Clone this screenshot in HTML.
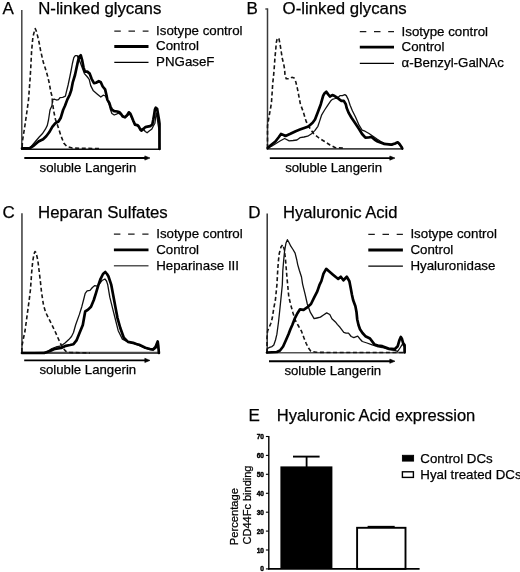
<!DOCTYPE html>
<html><head><meta charset="utf-8"><style>
html,body{margin:0;padding:0;background:#fff;overflow:hidden;}
svg{display:block;}
text{font-family:"Liberation Sans",sans-serif;fill:#000;stroke:#000;stroke-width:0.25px;}
svg{will-change:transform;}
.pl{font-size:17px;}
.tt{font-size:16.8px;}
.leg{font-size:13.3px;}
.sl{font-size:13.2px;}
.tick{font-size:7.5px;font-weight:bold;text-anchor:end;stroke-width:0.45px;}
.ylab{font-size:11.2px;}
polyline{fill:none;stroke-linejoin:round;stroke-linecap:round;}
.iso{stroke:#151515;stroke-width:1.6;stroke-dasharray:4 2.6;stroke-linecap:butt;}
.thin{stroke:#111;stroke-width:1.3;}
.thick{stroke:#000;stroke-width:2.7;}
.yax{stroke:#444;stroke-width:1.5;}
.xax{stroke:#1a1a1a;stroke-width:1.6;}
.arr{stroke:#000;stroke-width:1.9;}
.ldash{stroke:#1a1a1a;stroke-width:1.3;stroke-dasharray:6.5 7.7;}
.lthick{stroke:#000;stroke-width:2.8;}
.lthin{stroke:#000;stroke-width:1.2;}
.bax{stroke:#000;stroke-width:1.4;}
</style></head><body>
<svg width="520" height="572" viewBox="0 0 520 572">
<text class="pl" x="2.6" y="13.7">A</text>
<text class="tt" x="38.2" y="13.8">N-linked glycans</text>
<line x1="21.8" y1="10" x2="21.8" y2="149.89999999999998" stroke="#444" stroke-width="1.5"/>
<line x1="21.1" y1="149.2" x2="160.3" y2="149.2" stroke="#111" stroke-width="1.6"/>
<polyline class="iso" points="22.2,147.0 22.4,141.5 25.0,125.0 27.0,111.0 28.5,100.0 30.0,80.0 30.7,69.0 31.6,51.0 32.9,37.0 34.3,31.5 35.2,28.6 36.1,30.5 37.7,36.4 39.2,43.0 40.7,51.2 43.4,62.6 45.2,68.0 47.3,75.0 49.2,82.7 50.8,91.9 51.9,95.8 52.7,104.0 53.8,111.5 55.4,119.2 58.1,126.9 60.8,135.4 63.8,143.1 66.9,146.5 72.3,148.1 85.0,148.4 100.0,148.5"/>
<polyline class="thin" points="22.0,148.5 30.0,148.0 35.4,141.5 39.2,137.0 42.3,133.8 45.4,129.2 47.3,125.4 48.5,120.0 50.0,110.0 51.9,105.8 52.7,99.6 54.2,99.2 56.5,100.0 58.5,99.6 60.0,97.7 62.7,97.3 65.4,96.2 66.2,92.7 68.1,85.0 70.0,76.0 71.2,70.0 72.4,63.5 73.8,57.7 75.3,55.6 77.2,55.6 79.1,59.6 81.0,64.5 84.4,73.6 87.0,76.5 89.2,79.3 90.7,85.6 93.1,90.4 97.4,94.2 100.8,97.1 103.2,95.2 105.5,96.0 107.7,100.5 109.5,105.0 110.4,109.6 111.9,113.5 114.2,115.0 116.5,114.2 118.1,113.1 121.2,114.7 123.5,116.0 125.0,117.6 127.3,115.8 129.0,114.0 130.4,115.0 131.9,118.5 133.5,122.0 135.0,125.3 137.3,125.8 138.8,127.3 140.4,129.6 142.7,128.5 145.3,131.5 147.1,132.8 149.2,131.1 151.9,128.9 153.2,126.2 154.9,123.2 155.6,118.0 156.2,113.0 157.0,116.0 158.0,124.0 159.2,131.0 159.5,149.0"/>
<polyline class="thick" points="22.0,148.3 30.0,148.0 33.0,146.2 38.5,141.5 43.1,139.2 46.2,136.2 49.2,132.3 52.3,126.9 55.4,123.1 58.5,121.5 60.8,117.7 63.1,110.0 65.0,105.8 67.3,99.6 69.6,95.0 71.2,90.4 72.7,82.7 75.0,75.0 77.7,62.5 79.1,56.7 80.8,55.3 82.0,59.6 83.5,67.3 84.9,71.6 87.3,71.6 89.7,73.6 91.6,78.8 94.0,83.2 96.0,82.7 98.8,81.2 100.8,82.2 102.7,86.5 105.1,89.4 106.5,95.2 107.3,99.6 109.2,102.7 110.4,106.5 111.9,109.6 114.2,111.2 117.3,111.5 119.6,112.3 121.2,114.2 122.7,116.5 125.0,117.3 127.3,115.0 128.8,112.3 130.4,113.8 131.9,117.3 133.5,121.2 135.0,124.6 137.3,125.0 138.8,126.5 140.4,129.6 141.6,130.6 143.1,129.3 145.3,127.1 147.5,126.7 150.1,126.2 152.3,124.5 153.2,120.1 154.1,114.9 154.9,109.6 155.8,107.7 157.1,108.7 158.0,114.0 158.9,119.2 159.5,123.6 159.5,149.0"/>
<line class="arr" x1="24.3" y1="158" x2="146" y2="158"/>
<polygon points="144.8,155.9 150,158 144.8,160.1" fill="#000" stroke="#000" stroke-width="0.6" stroke-linejoin="round"/>
<line class="ldash" x1="114.3" y1="31.1" x2="148.5" y2="31.1"/>
<line class="lthick" x1="114.3" y1="46.5" x2="148.5" y2="46.5"/>
<line class="lthin" x1="114.3" y1="62.3" x2="148.5" y2="62.3" style=""/>
<text class="leg" x="156.1" y="34.9">Isotype control</text>
<text class="leg" x="156.1" y="50.3">Control</text>
<text class="leg" x="156.1" y="66.1">PNGaseF</text>
<text class="sl" x="39.6" y="171.5">soluble Langerin</text>
<text class="pl" x="246.4" y="13.7">B</text>
<line x1="265.3" y1="9" x2="267.6" y2="9" stroke="#3a3a3a" stroke-width="1.3"/>
<text class="tt" x="282.6" y="13.8">O-linked glycans</text>
<line x1="267.5" y1="8.4" x2="267.5" y2="149.5" stroke="#3a3a3a" stroke-width="1.5"/>
<line x1="266.8" y1="148.8" x2="402.8" y2="148.8" stroke="#444" stroke-width="1.7"/>
<polyline class="iso" points="267.5,148.0 267.5,126.0 268.3,121.0 269.5,114.0 270.8,107.0 271.5,102.0 272.3,90.4 272.7,83.5 273.5,76.5 274.2,68.3 275.0,57.0 275.8,49.2 276.2,43.1 277.0,39.5 278.1,37.7 279.0,39.0 280.0,43.8 281.2,51.5 282.3,58.5 283.8,64.6 284.6,69.2 285.0,75.0 286.2,78.8 289.6,78.8 291.9,77.3 294.2,78.1 295.8,81.9 297.3,88.1 298.8,95.8 300.4,104.2 303.0,111.0 306.2,121.5 310.0,128.5 313.8,133.8 319.0,138.0 324.6,141.5 330.0,145.0 335.4,147.7 345.0,148.3"/>
<polyline class="thin" points="267.7,148.3 272.0,146.0 276.0,143.5 280.0,141.0 284.6,138.5 289.2,140.8 293.0,140.5 296.9,140.0 300.0,137.7 304.0,137.0 307.7,136.2 311.6,133.8 315.0,130.4 317.9,126.3 319.8,120.6 321.7,114.8 324.6,110.0 327.5,105.7 330.4,101.3 332.3,99.4 335.2,98.5 338.1,97.5 340.0,95.6 342.4,95.6 344.8,94.6 346.3,95.6 348.2,99.4 350.1,105.2 352.5,111.0 355.4,116.7 359.2,125.4 362.1,130.2 365.0,131.2 369.0,133.5 373.0,136.2 377.0,139.0 380.8,141.5 385.0,143.5 391.5,145.0 395.0,144.0 397.7,143.0 399.5,144.5 401.5,147.0 402.3,148.5"/>
<polyline class="thick" points="267.7,148.0 271.0,145.0 275.4,141.5 278.5,137.5 281.0,134.0 283.5,135.0 285.5,136.0 290.4,133.8 295.7,131.2 299.9,129.6 304.2,128.0 308.4,126.4 312.6,122.7 315.0,119.5 317.9,111.9 320.8,104.2 323.2,95.6 324.6,93.2 326.3,91.7 328.0,94.1 329.9,96.5 332.3,95.1 334.7,96.1 337.6,98.0 340.0,99.9 341.4,100.9 343.8,100.9 345.8,104.2 346.7,108.1 348.7,112.9 351.5,117.7 355.4,123.5 359.2,129.2 362.1,134.0 365.4,137.7 368.5,137.5 371.5,136.9 374.5,139.5 377.7,141.5 383.8,143.8 391.5,144.6 395.0,143.5 397.7,142.3 399.5,144.0 401.5,146.9 402.3,148.5"/>
<line class="arr" x1="269.8" y1="158.1" x2="391" y2="158.1"/>
<polygon points="389.8,156.0 395,158.1 389.8,160.2" fill="#000" stroke="#000" stroke-width="0.6" stroke-linejoin="round"/>
<line class="ldash" x1="359.8" y1="31.7" x2="394" y2="31.7"/>
<line class="lthick" x1="359.8" y1="47.2" x2="394" y2="47.2"/>
<line class="lthin" x1="359.8" y1="63.3" x2="394" y2="63.3" style=""/>
<text class="leg" x="401.6" y="35.5">Isotype control</text>
<text class="leg" x="401.6" y="51.0">Control</text>
<text class="leg" x="401.6" y="67.1">&#945;-Benzyl-GalNAc</text>
<text class="sl" x="285.2" y="171.8">soluble Langerin</text>
<text class="pl" x="2.4" y="217.6">C</text>
<text class="tt" x="38.1" y="217.7">Heparan Sulfates</text>
<line x1="21.95" y1="213.2" x2="21.95" y2="353.59999999999997" stroke="#5a5a5a" stroke-width="1.8"/>
<line x1="21.25" y1="352.9" x2="159.6" y2="352.9" stroke="#4a4a4a" stroke-width="2.2"/>
<polyline class="iso" points="21.9,352.0 21.9,346.5 23.5,338.0 25.0,331.0 26.5,320.0 28.1,308.0 29.2,300.0 30.4,290.0 31.0,282.0 31.7,272.0 32.7,261.5 34.0,254.0 35.0,251.5 36.0,252.5 37.8,260.0 39.0,270.0 40.4,281.5 41.5,292.0 42.7,300.0 43.5,305.0 45.5,312.0 48.1,317.3 51.5,324.0 55.0,331.2 58.0,338.0 60.4,343.5 63.0,348.0 65.8,351.2 70.0,352.5 90.0,353.0"/>
<polyline class="thin" points="22.0,353.0 45.8,352.5 51.9,348.5 56.0,347.0 61.2,345.8 65.0,343.0 68.8,339.6 71.5,336.5 73.5,332.5 75.6,325.0 79.4,314.4 81.8,306.7 83.8,299.0 85.2,293.3 87.1,290.9 90.0,290.4 92.4,287.5 94.8,285.6 97.2,286.1 100.0,283.2 102.0,280.5 104.9,279.0 106.5,281.0 107.7,284.6 109.8,297.2 112.6,308.4 115.4,319.5 118.2,330.7 122.4,339.1 126.9,341.5 133.1,343.3 139.2,345.5 145.4,348.2 150.0,349.5 153.1,350.0 155.5,348.5 157.7,346.0 158.5,349.0 158.9,353.0"/>
<polyline class="thick" points="22.0,353.0 44.2,353.0 50.0,351.0 55.0,348.8 61.2,348.0 65.8,345.8 70.0,345.0 73.5,344.2 76.5,340.4 79.5,333.0 82.8,325.0 85.2,311.5 88.1,309.6 91.0,306.7 93.8,300.0 96.2,292.3 98.2,285.6 100.6,278.8 103.0,274.0 105.3,272.0 107.0,274.0 108.4,276.2 111.2,284.6 113.3,295.8 115.4,307.0 117.5,318.1 120.3,328.0 123.8,337.7 128.0,341.9 133.1,342.8 136.4,344.0 139.2,344.8 145.4,347.7 150.0,349.0 153.1,349.5 155.5,347.0 157.7,341.5 158.3,346.0 158.9,353.0"/>
<line class="arr" x1="24.2" y1="360.4" x2="146" y2="360.4"/>
<polygon points="144.8,358.29999999999995 150,360.4 144.8,362.5" fill="#000" stroke="#000" stroke-width="0.6" stroke-linejoin="round"/>
<line class="ldash" x1="113.9" y1="234.2" x2="148.5" y2="234.2"/>
<line class="lthick" x1="113.9" y1="249.8" x2="148.5" y2="249.8"/>
<line class="lthin" x1="113.9" y1="265.8" x2="148.5" y2="265.8" style="stroke:#555;stroke-width:1.6"/>
<text class="leg" x="156.2" y="238.0">Isotype control</text>
<text class="leg" x="156.2" y="253.6">Control</text>
<text class="leg" x="156.2" y="269.6">Heparinase III</text>
<text class="sl" x="39.4" y="374.4">soluble Langerin</text>
<text class="pl" x="248.2" y="217.6">D</text>
<text class="tt" x="283.1" y="217.7" style="font-size:16.6px">Hyaluronic Acid</text>
<line x1="267.2" y1="213.4" x2="267.2" y2="353.4" stroke="#333" stroke-width="1.5"/>
<line x1="266.5" y1="352.7" x2="405.5" y2="352.7" stroke="#555" stroke-width="1.6"/>
<polyline class="iso" points="267.0,352.5 267.0,338.0 267.6,331.0 270.8,323.5 272.3,318.0 273.8,308.0 275.4,300.0 276.9,285.0 277.7,270.8 278.3,262.0 279.2,253.8 281.0,247.0 282.8,244.6 284.2,249.0 285.4,258.5 286.2,268.0 286.9,277.0 287.7,285.0 288.8,297.0 290.8,305.0 293.0,313.0 295.4,320.4 298.5,326.0 301.5,331.2 304.0,338.0 306.2,343.5 308.5,348.0 310.8,351.2 316.0,352.3 330.0,352.5 404.3,352.5"/>
<polyline class="thin" points="267.0,352.5 267.5,348.5 269.5,347.4 272.0,346.6 273.8,345.0 275.5,340.0 276.9,334.2 278.5,322.0 280.0,308.0 280.8,300.0 282.3,285.0 282.8,270.8 283.7,260.0 284.6,250.8 286.0,243.0 287.4,239.7 289.0,242.5 290.8,246.2 293.0,249.5 295.1,253.1 296.8,260.0 297.7,264.6 299.4,270.5 301.5,277.0 302.6,284.1 305.2,294.6 307.3,304.0 310.4,312.4 314.1,318.7 317.0,318.0 320.4,317.1 323.5,315.0 326.7,312.9 329.8,314.5 331.9,318.7 335.4,321.9 337.3,324.4 340.0,327.3 343.8,332.3 346.0,333.1 348.5,333.1 351.2,336.5 353.8,337.7 357.7,336.2 360.0,339.0 362.3,341.5 367.0,343.0 371.5,344.6 377.0,346.5 382.3,347.5 388.5,349.5 394.6,350.3 397.7,351.3 400.0,348.0 402.3,344.3 403.5,345.5 404.6,347.0 404.6,352.3"/>
<polyline class="thick" points="267.0,352.5 276.9,352.0 280.0,350.5 283.1,346.5 286.0,340.0 288.5,334.2 290.5,329.0 292.3,325.0 294.7,318.7 297.3,313.5 300.0,309.3 303.6,309.8 306.8,307.7 311.0,304.0 314.1,297.7 317.3,291.4 319.4,285.2 321.4,281.0 323.5,273.6 326.2,268.9 329.3,271.5 333.0,274.7 336.1,277.3 338.2,278.9 340.8,276.8 343.4,280.3 346.8,276.8 349.4,281.2 350.7,288.0 352.0,295.0 353.1,300.0 355.4,306.2 356.5,312.0 357.2,319.2 358.5,325.0 360.0,329.2 362.5,333.0 365.4,336.2 370.0,338.5 374.6,344.6 378.0,345.5 382.3,346.2 388.5,348.5 394.6,349.2 397.7,346.2 399.5,340.0 400.8,336.9 402.0,339.0 403.1,343.1 404.6,345.0 404.6,352.3"/>
<line class="arr" x1="269" y1="361.2" x2="391" y2="361.2"/>
<polygon points="389.8,359.09999999999997 395,361.2 389.8,363.3" fill="#000" stroke="#000" stroke-width="0.6" stroke-linejoin="round"/>
<line class="ldash" x1="368.3" y1="234.4" x2="402.9" y2="234.4"/>
<line class="lthick" x1="368.3" y1="250" x2="402.9" y2="250"/>
<line class="lthin" x1="368.3" y1="266.1" x2="402.9" y2="266.1" style=""/>
<text class="leg" x="410.4" y="238.2">Isotype control</text>
<text class="leg" x="410.4" y="253.8">Control</text>
<text class="leg" x="410.4" y="269.9">Hyaluronidase</text>
<text class="sl" x="284.4" y="374.7">soluble Langerin</text>
<text class="pl" x="248.6" y="420.8">E</text>
<text class="tt" x="276.8" y="420.8" style="font-size:16.55px">Hyaluronic Acid expression</text>
<line class="bax" x1="268.8" y1="436" x2="268.8" y2="569.6"/>
<line class="bax" x1="268.1" y1="568.9" x2="419.6" y2="568.9" style="stroke-width:1.6"/>
<line class="bax" x1="265.9" y1="568.9" x2="268.8" y2="568.9" style="stroke-width:1.1"/>
<text class="tick" x="264" y="571.4" textLength="3.7" lengthAdjust="spacingAndGlyphs">0</text>
<line class="bax" x1="265.9" y1="550.0" x2="268.8" y2="550.0" style="stroke-width:1.1"/>
<text class="tick" x="264" y="552.5" textLength="7.3" lengthAdjust="spacingAndGlyphs">10</text>
<line class="bax" x1="265.9" y1="531.1" x2="268.8" y2="531.1" style="stroke-width:1.1"/>
<text class="tick" x="264" y="533.6" textLength="7.3" lengthAdjust="spacingAndGlyphs">20</text>
<line class="bax" x1="265.9" y1="512.2" x2="268.8" y2="512.2" style="stroke-width:1.1"/>
<text class="tick" x="264" y="514.7" textLength="7.3" lengthAdjust="spacingAndGlyphs">30</text>
<line class="bax" x1="265.9" y1="493.3" x2="268.8" y2="493.3" style="stroke-width:1.1"/>
<text class="tick" x="264" y="495.8" textLength="7.3" lengthAdjust="spacingAndGlyphs">40</text>
<line class="bax" x1="265.9" y1="474.3" x2="268.8" y2="474.3" style="stroke-width:1.1"/>
<text class="tick" x="264" y="476.8" textLength="7.3" lengthAdjust="spacingAndGlyphs">50</text>
<line class="bax" x1="265.9" y1="455.4" x2="268.8" y2="455.4" style="stroke-width:1.1"/>
<text class="tick" x="264" y="457.9" textLength="7.3" lengthAdjust="spacingAndGlyphs">60</text>
<line class="bax" x1="265.9" y1="436.5" x2="268.8" y2="436.5" style="stroke-width:1.1"/>
<text class="tick" x="264" y="439.0" textLength="7.3" lengthAdjust="spacingAndGlyphs">70</text>
<rect x="280.4" y="466.4" width="52" height="102.5" fill="#000"/>
<line x1="306.6" y1="456.6" x2="306.6" y2="467" stroke="#000" stroke-width="1.8"/>
<line x1="293" y1="456.6" x2="319.6" y2="456.6" stroke="#000" stroke-width="1.9"/>
<rect x="357.1" y="527.8" width="48.4" height="41.1" fill="#fff" stroke="#000" stroke-width="1.9"/>
<line x1="367.6" y1="526.8" x2="394.7" y2="526.8" stroke="#000" stroke-width="1.9"/>
<text class="ylab" transform="translate(238.2,545.2) rotate(-90)">Percentage</text>
<text class="ylab" transform="translate(251.1,544.4) rotate(-90)" style="font-size:11px">CD44Fc binding</text>
<rect x="402.4" y="455.3" width="11.2" height="5.8" fill="#000" stroke="#000" stroke-width="0.9"/>
<rect x="402.4" y="471.8" width="11" height="5.6" fill="#fff" stroke="#000" stroke-width="1.4"/>
<text class="leg" x="420.3" y="462.7">Control DCs</text>
<text class="leg" x="420.3" y="478.5">Hyal treated DCs</text>
</svg>
</body></html>
